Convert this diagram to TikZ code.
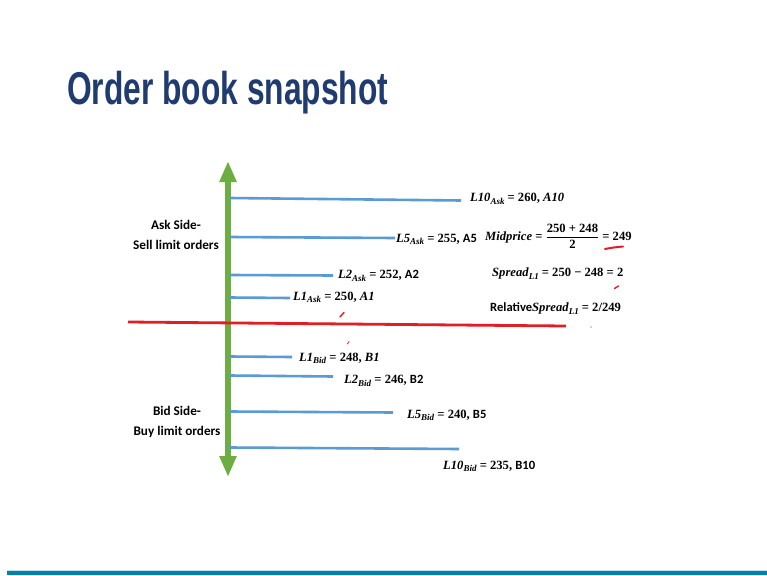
\documentclass[tikz,border=0pt]{standalone}
\usepackage{fontspec}
\usepackage{graphicx}
\usetikzlibrary{arrows.meta}
\setmainfont{Carlito}
\newfontfamily\titlefont{Liberation Sans}
\newfontfamily\mfont{Liberation Serif}
\newfontfamily\calfont{Carlito}
\definecolor{navy}{HTML}{1F3B70}
\definecolor{lineblue}{HTML}{5B9BD5}
\definecolor{arrowgreen}{HTML}{6DAE42}
\definecolor{redline}{HTML}{E01E24}
\definecolor{barblue}{HTML}{0A7DA8}
\definecolor{barlight}{HTML}{BFE3EF}
\newcommand\lv[2]{\textit{#1}\raisebox{-0.45ex}{\fontsize{9}{9}\selectfont\textit{#2}}}
\newcommand\cw[1]{{\calfont #1}}
\tikzset{
  level/.style={draw=lineblue, line width=2.6pt},
  lbl/.style={anchor=west, inner sep=0pt, font=\mfont\bfseries\fontsize{12.6}{14}\selectfont},
  side/.style={align=center, inner sep=0pt, font=\bfseries\fontsize{13.2}{19.5}\selectfont},
  redmark/.style={draw=redline, line width=1.4pt, line cap=round}
}
\begin{document}
\begin{tikzpicture}[x=1pt,y=-1pt]
\useasboundingbox (0,0) rectangle (767,575);
\fill[white] (0,0) rectangle (767,575);
% title
\node[anchor=base west, inner sep=0pt, text=navy, font=\titlefont\bfseries\fontsize{46}{50}\selectfont] (title) at (67,104) {\scalebox{0.69}[1]{Order book snapshot}};
% green axis
\coordinate (top) at (228,161);
\coordinate (bot) at (228,477);
\draw[draw=arrowgreen, line width=5.5pt, {Triangle[width=16pt,length=21pt]}-{Triangle[width=16pt,length=21pt]}] (bot) -- (top);
% ask levels
\coordinate (a10s) at (230,198); \coordinate (a10e) at (461,200.5);
\coordinate (a5s) at (230,237);  \coordinate (a5e) at (395,238);
\coordinate (a2s) at (230,275);  \coordinate (a2e) at (333,275.5);
\coordinate (a1s) at (230,297.5);\coordinate (a1e) at (290,298);
\draw[level] (a10s) -- (a10e);
\draw[level] (a5s) -- (a5e);
\draw[level] (a2s) -- (a2e);
\draw[level] (a1s) -- (a1e);
% bid levels
\coordinate (b1s) at (230,356.5); \coordinate (b1e) at (292,357);
\coordinate (b2s) at (230,375.5); \coordinate (b2e) at (333,376.5);
\coordinate (b5s) at (230,411.5); \coordinate (b5e) at (393,412.5);
\coordinate (b10s) at (230,447.5);\coordinate (b10e) at (459,449);
\draw[level] (b1s) -- (b1e);
\draw[level] (b2s) -- (b2e);
\draw[level] (b5s) -- (b5e);
\draw[level] (b10s) -- (b10e);
% red mid line
\coordinate (rl) at (128,322); \coordinate (rr) at (566,326);
\draw[draw=redline, line width=2.8pt] (rl) -- (rr);
% labels
\node[lbl] (la10) at (470,199) {\lv{L10}{Ask} = 260, \textit{A10}};
\node[lbl] (la5) at (396,239.5) {\lv{L5}{Ask} = 255, \cw{A5}};
\node[lbl] (la2) at (338,276) {\lv{L2}{Ask} = 252, \cw{A2}};
\node[lbl] (la1) at (293,297.5) {\lv{L1}{Ask} = 250, \textit{A1}};
\node[lbl] (lb1) at (299,358.5) {\lv{L1}{Bid} = 248, \textit{B1}};
\node[lbl] (lb2) at (344,381) {\lv{L2}{Bid} = 246, \cw{B2}};
\node[lbl] (lb5) at (407,415.5) {\lv{L5}{Bid} = 240, \cw{B5}};
\node[lbl] (lb10) at (443,466.5) {\lv{L10}{Bid} = 235, \cw{B10}};
\node[lbl] (mid) at (485,236) {\textit{Midprice} = $\displaystyle\frac{\mbox{250 + 248}}{\mbox{2}}$ = 249};
\node[lbl] (spr) at (492,273.5) {\lv{Spread}{L1} = 250 − 248 = 2};
\node[lbl] (rsp) at (490,308.5) {\cw{Relative}\lv{Spread}{L1} = 2/249};
% side labels
\node[side] (ask) at (176,235) {Ask Side-\\Sell limit orders};
\node[side] (bid) at (177,422) {Bid Side-\\Buy limit orders};
% red hand marks
\coordinate (m1a) at (340,317); \coordinate (m1b) at (344,312.5);
\draw[redmark] (m1a) -- (m1b);
\coordinate (m2a) at (347.5,344); \coordinate (m2b) at (349,341.5);
\draw[redmark, line width=0.8pt] (m2a) -- (m2b);
\coordinate (m3a) at (605,249); \coordinate (m3b) at (623,246.5);
\draw[redmark, line width=2pt] (m3a) to[bend left=3] (m3b);
\coordinate (m4a) at (614.5,288.5); \coordinate (m4b) at (618.5,286);
\draw[redmark] (m4a) -- (m4b);
\coordinate (dot) at (591,327);
\fill[gray!70] (dot) circle (0.9);
% bottom bar
\coordinate (bl) at (7,570.5); \coordinate (br) at (767,570.5);
\draw[barlight, line width=1pt] (bl) -- (br);
\fill[barblue] (7,571) rectangle (767,575);
\end{tikzpicture}
\end{document}
